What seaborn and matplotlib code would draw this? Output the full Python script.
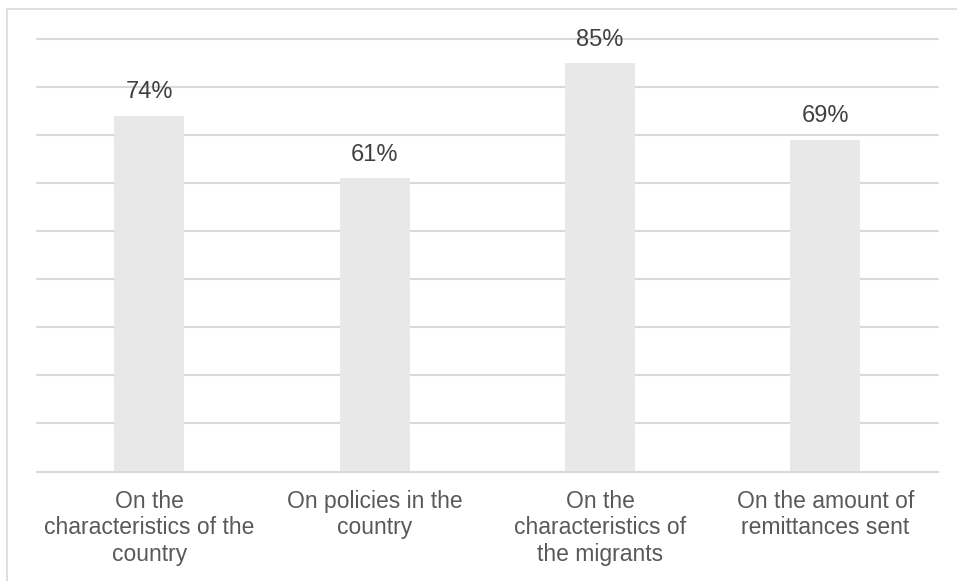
import matplotlib
matplotlib.use("Agg")
import matplotlib.pyplot as plt
import seaborn as sns
import pandas as pd
from matplotlib.patches import Rectangle

categories = [
    "On the\ncharacteristics of the\ncountry",
    "On policies in the\ncountry",
    "On the\ncharacteristics of\nthe migrants",
    "On the amount of\nremittances sent",
]
values = [74, 61, 85, 69]

df = pd.DataFrame({"category": categories, "value": values})

sns.set_theme(style="white")
plt.rcParams["font.family"] = ["Liberation Sans", "DejaVu Sans"]

fig = plt.figure(figsize=(9.57, 5.81), dpi=100)
ax = fig.add_axes([36.7 / 957, 1 - 471.5 / 581, (938 - 36.7) / 957, (471.5 - 39) / 581])

sns.barplot(data=df, x="category", y="value", color="#e8e8e8", width=0.31,
            saturation=1, ax=ax, edgecolor="none")

ax.set_ylim(0, 90)
ax.set_xlim(-0.5, len(categories) - 0.5)
ax.set_yticks(range(10, 91, 10))
ax.yaxis.grid(True, color="#d9d9d9", linewidth=1.5)
for gl in ax.get_ygridlines():
    gl.set_clip_on(False)
ax.set_axisbelow(True)
ax.tick_params(axis="y", left=False, labelleft=False)
ax.tick_params(axis="x", bottom=False, labelsize=16.5, labelcolor="#595959", pad=7)
for s in ["top", "right", "left"]:
    ax.spines[s].set_visible(False)
ax.spines["bottom"].set_color("#d9d9d9")
ax.spines["bottom"].set_linewidth(1.5)
ax.set_xlabel("")
ax.set_ylabel("")

for i, v in enumerate(values):
    ax.annotate(f"{v}%", (i, v), xytext=(0, 9), textcoords="offset points",
                ha="center", va="bottom", fontsize=17, color="#404040",
                annotation_clip=False)

# outer chart frame
fig.patches.append(Rectangle((7 / 957, -0.1), 1.2, 1 - 9 / 581 + 0.1,
                             transform=fig.transFigure, fill=False,
                             edgecolor="#d9d9d9", linewidth=1.2))

fig.savefig("out.png", dpi=100)
